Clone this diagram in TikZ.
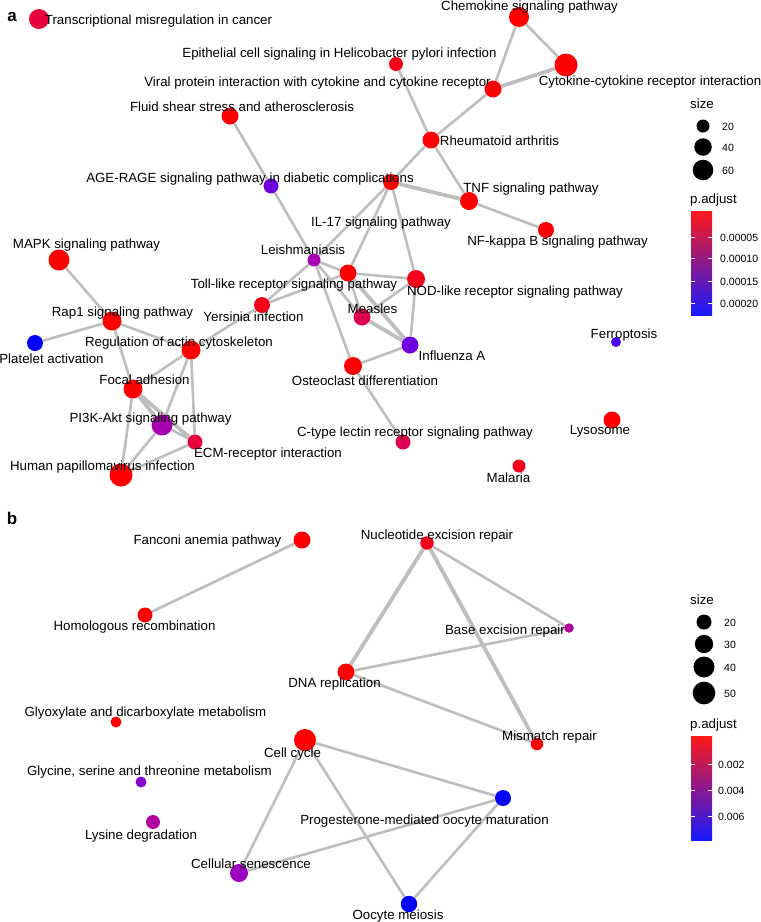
\documentclass[tikz,border=0pt]{standalone}
\usepackage{fontspec}
\setmainfont{Liberation Sans}
\pgfdeclarelayer{edges}
\pgfdeclarelayer{bg}
\pgfsetlayers{bg,edges,main}
\definecolor{edgegray}{RGB}{190,190,190}
\definecolor{rA}{RGB}{255,0,0}
\definecolor{rB}{RGB}{245,0,26}
\definecolor{rC}{RGB}{232,0,60}
\definecolor{rD}{RGB}{220,0,80}
\definecolor{mA}{RGB}{168,0,176}
\definecolor{mB}{RGB}{176,0,160}
\definecolor{pA}{RGB}{112,0,224}
\definecolor{pB}{RGB}{136,0,208}
\definecolor{pC}{RGB}{156,0,192}
\definecolor{bA}{RGB}{74,0,240}
\definecolor{bB}{RGB}{0,0,255}
\definecolor{barmid}{RGB}{195,20,150}
\newcommand\mknode[5]{\node[nd=#4,minimum size=#5pt] (#1) at (#2,#3) {};}
\tikzset{
  nd/.style={circle, inner sep=0pt, draw=none, fill=#1},
  lab/.style={font=\fontsize{13.3}{15}\selectfont, inner sep=0pt, anchor=mid, yshift=-2.5pt},
  tick/.style={font=\fontsize{10.5}{12}\selectfont, inner sep=0pt, anchor=mid west, yshift=-2pt},
  ttl/.style={font=\fontsize{13.3}{15}\selectfont, inner sep=0pt, anchor=mid west, yshift=-2.5pt},
  panel/.style={font=\bfseries\fontsize{17}{19}\selectfont, inner sep=0pt, anchor=mid, yshift=-2pt},
  ed/.style={draw=edgegray, line width=2.6pt},
  edk/.style={draw=edgegray, line width=3.8pt},
  legdot/.style={circle, inner sep=0pt, fill=black},
  wtick/.style={draw=white, line width=0.6pt},
  cbar/.style={top color=rA, middle color=barmid, bottom color=bB, fill opacity=0.9}
}
\begin{document}
\begin{tikzpicture}[x=1pt,y=-1pt]
\begin{pgfonlayer}{bg}
\fill[white] (0,0) rectangle (761,922);
\end{pgfonlayer}
\useasboundingbox (0,0) rectangle (761,922);
% ---------------- panel a nodes
\mknode{tmc}{39}{19}{rC}{20}
\mknode{chem}{519}{17}{rA}{20}
\mknode{epi}{396}{64}{rB}{14}
\mknode{cyto}{566}{65}{rA}{23}
\mknode{viral}{493}{89}{rA}{17}
\mknode{fluid}{230}{116}{rA}{17}
\mknode{rheu}{431}{140}{rA}{17}
\mknode{age}{271}{186}{pA}{15}
\mknode{tnf}{469}{201}{rA}{18}
\mknode{il}{391}{182}{rA}{16}
\mknode{nfkb}{546}{230}{rA}{16}
\mknode{leish}{314}{260}{mA}{13}
\mknode{toll}{348}{273}{rA}{17}
\mknode{nod}{416}{279}{rB}{18}
\mknode{mapk}{59}{260}{rA}{21}
\mknode{rap}{112}{321}{rA}{19}
\mknode{yers}{262}{305}{rB}{16}
\mknode{meas}{362}{317}{rD}{17}
\mknode{plat}{35}{343}{bB}{16}
\mknode{reg}{191}{350}{rA}{19}
\mknode{infl}{410}{345}{pA}{17}
\mknode{osteo}{353}{366}{rA}{18}
\mknode{focal}{133}{389}{rA}{19}
\mknode{ferro}{616}{342}{bA}{10}
\mknode{pik}{162}{425}{mA}{21}
\mknode{ecm}{195}{442}{rC}{15}
\mknode{ctype}{403}{442}{rD}{15}
\mknode{lyso}{612}{420}{rA}{17}
\mknode{hpv}{121}{475}{rA}{23}
\mknode{mal}{519}{466}{rB}{13}
% ---------------- panel a edges
\begin{pgfonlayer}{edges}
\draw[ed] (chem) -- (cyto);
\draw[ed] (chem) -- (viral);
\draw[edk] (viral) -- (cyto);
\draw[ed] (epi) -- (rheu);
\draw[ed] (viral) -- (rheu);
\draw[ed] (rheu) -- (il);
\draw[ed] (rheu) -- (tnf);
\draw[edk] (il) -- (tnf);
\draw[ed] (tnf) -- (nfkb);
\draw[ed] (fluid) -- (age);
\draw[ed] (age) -- (leish);
\draw[ed] (il) -- (leish);
\draw[ed] (il) -- (toll);
\draw[ed] (il) -- (nod);
\draw[ed] (leish) -- (toll);
\draw[ed] (leish) -- (yers);
\draw[ed] (leish) -- (meas);
\draw[ed] (leish) -- (osteo);
\draw[ed] (toll) -- (yers);
\draw[ed] (toll) -- (nod);
\draw[ed] (toll) -- (meas);
\draw[edk] (toll) -- (infl);
\draw[ed] (nod) -- (meas);
\draw[ed] (nod) -- (infl);
\draw[edk] (meas) -- (infl);
\draw[ed] (osteo) -- (infl);
\draw[ed] (osteo) -- (ctype);
\draw[ed] (yers) -- (reg);
\draw[ed] (mapk) -- (rap);
\draw[ed] (rap) -- (plat);
\draw[ed] (rap) -- (reg);
\draw[ed] (rap) -- (focal);
\draw[ed] (reg) -- (focal);
\draw[ed] (reg) -- (pik);
\draw[ed] (reg) -- (ecm);
\draw[edk] (focal) -- (pik);
\draw[edk] (focal) -- (ecm);
\draw[ed] (focal) -- (hpv);
\draw[ed] (pik) -- (ecm);
\draw[ed] (pik) -- (hpv);
\draw[ed] (ecm) -- (hpv);
\end{pgfonlayer}
% ---------------- panel a labels
\node[lab] (ltmc) at (158.5,19) {Transcriptional misregulation in cancer};
\node[lab] (lchem) at (529.5,5) {Chemokine signaling pathway};
\node[lab] (lepi) at (339.5,52) {Epithelial cell signaling in Helicobacter pylori infection};
\node[lab] (lcyto) at (650,80) {Cytokine-cytokine receptor interaction};
\node[lab] (lviral) at (317.5,81) {Viral protein interaction with cytokine and cytokine receptor};
\node[lab] (lfluid) at (242,106) {Fluid shear stress and atherosclerosis};
\node[lab] (lrheu) at (499.5,140) {Rheumatoid arthritis};
\node[lab] (lage) at (250,177) {AGE-RAGE signaling pathway in diabetic complications};
\node[lab] (ltnf) at (531,187) {TNF signaling pathway};
\node[lab] (lil) at (381,221) {IL-17 signaling pathway};
\node[lab] (lnfkb) at (557.5,240) {NF-kappa B signaling pathway};
\node[lab] (lmapk) at (86.5,243) {MAPK signaling pathway};
\node[lab] (lleish) at (303,249) {Leishmaniasis};
\node[lab] (ltoll) at (294,283) {Toll-like receptor signaling pathway};
\node[lab] (lnod) at (515,290) {NOD-like receptor signaling pathway};
\node[lab] (lrap) at (122.5,311) {Rap1 signaling pathway};
\node[lab] (lyers) at (253.5,316) {Yersinia infection};
\node[lab] (lmeas) at (372.5,308) {Measles};
\node[lab] (lreg) at (179,341) {Regulation of actin cytoskeleton};
\node[lab] (lplat) at (51.5,358) {Platelet activation};
\node[lab] (linfl) at (452,355) {Influenza A};
\node[lab] (lferro) at (624,333) {Ferroptosis};
\node[lab] (losteo) at (365,380) {Osteoclast differentiation};
\node[lab] (lfocal) at (144.5,379) {Focal adhesion};
\node[lab] (lpik) at (150.5,417) {PI3K-Akt signaling pathway};
\node[lab] (lctype) at (415,431) {C-type lectin receptor signaling pathway};
\node[lab] (llyso) at (600,429) {Lysosome};
\node[lab] (lecm) at (268,452) {ECM-receptor interaction};
\node[lab] (lhpv) at (102.5,465) {Human papillomavirus infection};
\node[lab] (lmal) at (508.5,477) {Malaria};
% ---------------- panel a legend
\node[panel] (pa) at (12,17) {a};
\node[ttl] (sza) at (690,103) {size};
\node[legdot, minimum size=13pt] (da1) at (703,126) {};
\node[legdot, minimum size=17.5pt] (da2) at (703,147) {};
\node[legdot, minimum size=20.6pt] (da3) at (703,170) {};
\node[tick, anchor=mid] (ta1) at (728,126) {20};
\node[tick, anchor=mid] (ta2) at (728,147) {40};
\node[tick, anchor=mid] (ta3) at (728,170) {60};
\node[ttl] (pada) at (690,198) {p.adjust};
\shade[cbar] (691,211) rectangle (712,315);
\foreach \yy in {237,258,281,303} {
  \draw[wtick] (691,\yy) -- (695,\yy);
  \draw[wtick] (708,\yy) -- (712,\yy);
}
\node[tick] (pa1) at (720,237) {0.00005};
\node[tick] (pa2) at (720,258) {0.00010};
\node[tick] (pa3) at (720,281) {0.00015};
\node[tick] (pa4) at (720,303) {0.00020};
% ---------------- panel b nodes
\mknode{fan}{302}{540}{rA}{17}
\mknode{hom}{145}{615}{rA}{15}
\mknode{nuc}{427}{543}{rB}{13.5}
\mknode{bas}{569}{628}{mB}{9.5}
\mknode{dna}{346}{672}{rA}{17}
\mknode{gly}{116}{722}{rA}{11}
\mknode{cc}{305}{740}{rA}{22}
\mknode{mis}{537}{744}{rA}{12.5}
\mknode{glyc}{141}{782}{pB}{11}
\mknode{prog}{503}{798}{bB}{16}
\mknode{lys}{153}{822}{mB}{14}
\mknode{cs}{239}{873}{pC}{18}
\mknode{ooc}{409}{904}{bB}{16.5}
\begin{pgfonlayer}{edges}
\draw[ed] (fan) -- (hom);
\draw[edk] (nuc) -- (dna);
\draw[ed] (nuc) -- (bas);
\draw[edk] (nuc) -- (mis);
\draw[ed] (dna) -- (bas);
\draw[ed] (dna) -- (mis);
\draw[ed] (cc) -- (prog);
\draw[ed] (cc) -- (cs);
\draw[ed] (cc) -- (ooc);
\draw[ed] (cs) -- (prog);
\draw[ed] (prog) -- (ooc);
\end{pgfonlayer}
\node[lab] (lfan) at (207.5,539) {Fanconi anemia pathway};
\node[lab] (lhom) at (134.5,625) {Homologous recombination};
\node[lab] (lnuc) at (437,534) {Nucleotide excision repair};
\node[lab] (lbas) at (505,629) {Base excision repair};
\node[lab] (ldna) at (334.5,682) {DNA replication};
\node[lab] (lgly) at (145.5,711) {Glyoxylate and dicarboxylate metabolism};
\node[lab] (lcc) at (292.5,752) {Cell cycle};
\node[lab] (lmis) at (549.5,735) {Mismatch repair};
\node[lab] (lglyc) at (149.5,770) {Glycine, serine and threonine metabolism};
\node[lab] (lprog) at (424.5,819) {Progesterone-mediated oocyte maturation};
\node[lab] (llys) at (141,834) {Lysine degradation};
\node[lab] (lcs) at (251,863) {Cellular senescence};
\node[lab] (looc) at (398,914) {Oocyte meiosis};
% ---------------- panel b legend
\node[panel] (pb) at (12,520) {b};
\node[ttl] (szb) at (690,599) {size};
\node[legdot, minimum size=15pt] (db1) at (704,622) {};
\node[legdot, minimum size=18.3pt] (db2) at (704,644) {};
\node[legdot, minimum size=21pt] (db3) at (704,667) {};
\node[legdot, minimum size=22.7pt] (db4) at (704,693) {};
\node[tick, anchor=mid] (tb1) at (730,622) {20};
\node[tick, anchor=mid] (tb2) at (730,644) {30};
\node[tick, anchor=mid] (tb3) at (730,667) {40};
\node[tick, anchor=mid] (tb4) at (730,693) {50};
\node[ttl] (padb) at (690,723) {p.adjust};
\shade[cbar] (691,736) rectangle (712,840);
\foreach \yy in {764,790,816} {
  \draw[wtick] (691,\yy) -- (695,\yy);
  \draw[wtick] (708,\yy) -- (712,\yy);
}
\node[tick] (pb1) at (718,764) {0.002};
\node[tick] (pb2) at (718,790) {0.004};
\node[tick] (pb3) at (718,816) {0.006};
\end{tikzpicture}
\end{document}
